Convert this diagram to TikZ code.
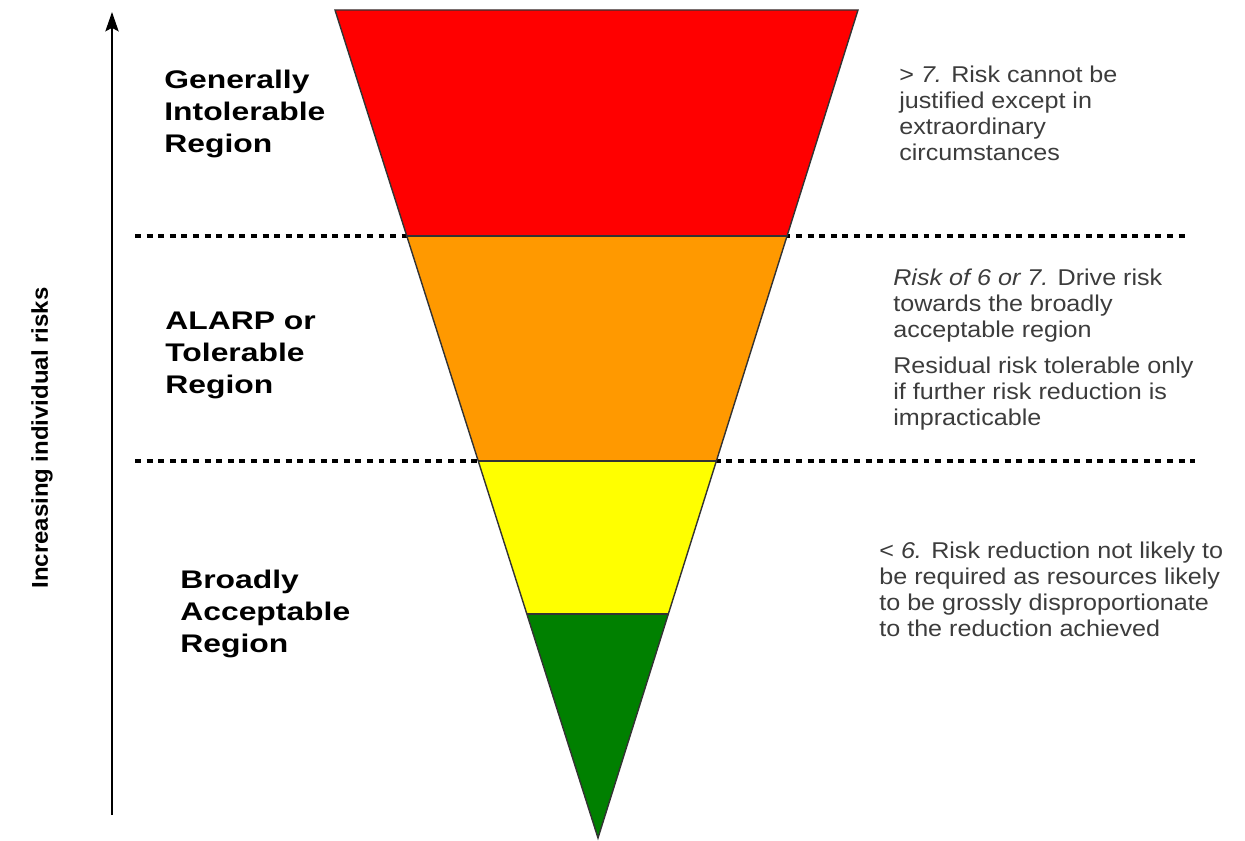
\documentclass[tikz,border=0pt]{standalone}
\usepackage{fontspec}
\setmainfont{Liberation Sans}
\newfontfamily\widefont[FakeStretch=1.25]{Liberation Sans}
\newfontfamily\notefont[FakeStretch=1.1]{Liberation Sans}
\newfontfamily\axisfont[FakeStretch=1.05]{Liberation Sans}
\usepackage{xcolor}
\usepackage{tikz}
\usetikzlibrary{positioning,arrows.meta,calc}
\definecolor{riskred}{RGB}{255,0,0}
\definecolor{riskorange}{RGB}{255,153,0}
\definecolor{riskyellow}{RGB}{255,255,0}
\definecolor{riskgreen}{RGB}{0,128,0}
\definecolor{notegray}{RGB}{60,60,60}

\begin{document}
\begin{tikzpicture}[x=0.02cm,y=-0.02cm,
    region/.style={font=\widefont\fontsize{14.5}{18}\selectfont\bfseries, align=left, anchor=north west, inner sep=0pt},
    note/.style={font=\notefont\fontsize{13}{14.8}\selectfont, text=notegray, align=left, anchor=north west, inner sep=0pt},
    dotline/.style={line width=2.8pt, dash pattern=on 3.4pt off 3.2pt},
    band/.style={line width=0.8pt, draw=black!80}]
  \useasboundingbox (0,0) rectangle (1245,841);
  % corners of the funnel
  \coordinate (tl) at (335,10);
  \coordinate (tr) at (858,10);
  \coordinate (ap) at (598,838);
  \foreach \t/\n in {0.273/a, 0.5447/b, 0.7295/c}{
    \coordinate (l\n) at ($(tl)!\t!(ap)$);
    \coordinate (r\n) at ($(tr)!\t!(ap)$);
  }
  % dotted separators (under the funnel)
  \coordinate (sa) at (135,236);
  \coordinate (ea) at (1190,236);
  \coordinate (sb) at (135,461);
  \coordinate (eb) at (1195,461);
  \draw[dotline] (sa) -- (ea);
  \draw[dotline] (sb) -- (eb);
  % bands
  \fill[riskred] (tl) -- (tr) -- (ra) -- (la) -- cycle;
  \fill[riskorange] (la) -- (ra) -- (rb) -- (lb) -- cycle;
  \fill[riskyellow] (lb) -- (rb) -- (rc) -- (lc) -- cycle;
  \fill[riskgreen] (lc) -- (rc) -- (ap) -- cycle;
  \draw[band] (la) -- (ra) (lb) -- (rb) (lc) -- (rc);
  \draw[band] (tl) -- (tr) -- (ap) -- cycle;
  % risk axis
  \coordinate (axb) at (112,815);
  \coordinate (axt) at (112,12);
  \draw[line width=1.3pt, -{Stealth[length=11pt, width=7.5pt, inset=2pt]}] (axb) -- (axt);
  \node[rotate=90, font=\axisfont\fontsize{13}{15}\selectfont\bfseries] (axis) at (42,438) {Increasing individual risks};
  % region names
  \node[region] (intol) at (164,70) {Generally\\Intolerable\\Region};
  \node[region] (alarp) at (165,312) {ALARP or\\Tolerable\\Region};
  \node[region] (broad) at (180,570) {Broadly\\Acceptable\\Region};
  % notes
  \node[note] (noteA) at (899,66) {> \textit{7.} Risk cannot be\\justified except in\\extraordinary\\circumstances};
  \node[note] (noteB) at (893,269) {\textit{Risk of 6 or 7.} Drive risk\\towards the broadly\\acceptable region};
  \node[note] (noteC) at (893,357) {Residual risk tolerable only\\if further risk reduction is\\impracticable};
  \node[note] (noteD) at (879,542) {< \textit{6.} Risk reduction not likely to\\be required as resources likely\\to be grossly disproportionate\\to the reduction achieved};
\end{tikzpicture}
\end{document}
